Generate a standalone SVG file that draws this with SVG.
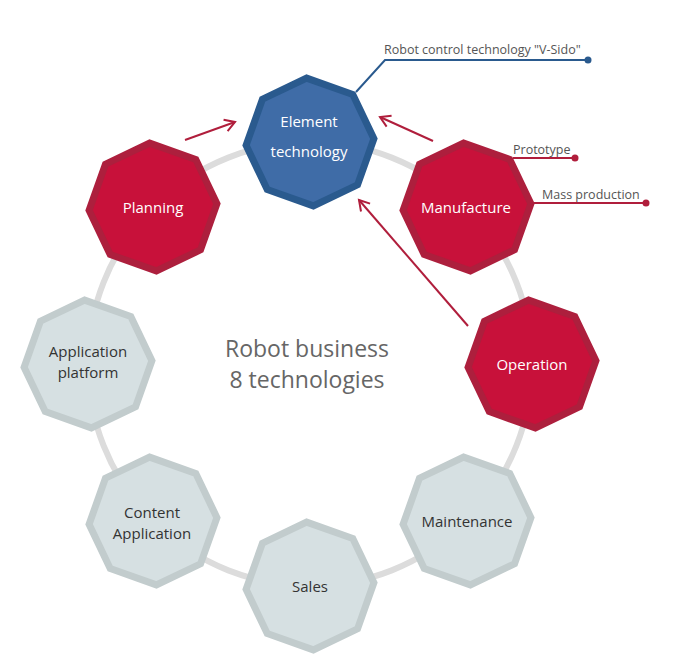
<svg xmlns="http://www.w3.org/2000/svg" width="675" height="671" viewBox="0 0 675 671">
  <style>
    .ring { fill: none; stroke: #dcdcdc; stroke-width: 6; }
    .red { fill: #c8113a; stroke: #ad1f3d; stroke-width: 7; stroke-linejoin: miter; }
    .blue { fill: #3f6ca7; stroke: #2a5a8e; stroke-width: 7; stroke-linejoin: miter; }
    .gray { fill: #d6e0e2; stroke: #c2cccd; stroke-width: 7; stroke-linejoin: miter; }
    text { font-family: "Open Sans", "Noto Sans", "Liberation Sans", sans-serif; }
    .lw { fill: #ffffff; font-size: 15px; text-anchor: middle; }
    .ld { fill: #333333; font-size: 15px; text-anchor: middle; }
    .center { fill: #666666; font-size: 23px; text-anchor: middle; }
    .note { fill: #555555; font-size: 12.5px; }
    .arrow { fill: none; stroke: #b01e3c; stroke-width: 2; marker-end: url(#ah); }
    .callr { fill: none; stroke: #b01e3c; stroke-width: 2; }
    .callb { fill: none; stroke: #2a5a8e; stroke-width: 2; }
  </style>
  <defs>
    <polygon id="oct" points="0,-64 45.25,-45.25 64,0 45.25,45.25 0,64 -45.25,45.25 -64,0 -45.25,-45.25"/>
    <marker id="ah" markerUnits="userSpaceOnUse" markerWidth="16" markerHeight="16" viewBox="-12 -8 14 16" refX="0" refY="0" orient="auto">
      <path d="M-10,-6 L0,0 L-10,6" fill="none" stroke="#b01e3c" stroke-width="2"/>
    </marker>
  </defs>

  <circle class="ring" cx="310" cy="364" r="222"/>

  <g id="connectors">
    <line class="arrow" x1="185" y1="140" x2="235" y2="122"/>
    <line class="arrow" x1="433" y1="141" x2="380" y2="117"/>
    <line class="arrow" x1="468" y1="326" x2="359" y2="200"/>
    <polyline class="callb" points="356,92 385,60 588,60"/>
    <circle cx="588" cy="60" r="3.5" fill="#2a5a8e"/>
    <polyline class="callr" points="513,158 574,158"/>
    <circle cx="575" cy="158" r="3.5" fill="#b01e3c"/>
    <polyline class="callr" points="534,203 645,203"/>
    <circle cx="646" cy="203" r="3.5" fill="#b01e3c"/>
  </g>

  <g id="element">
    <use href="#oct" class="blue" transform="translate(310,142) rotate(-3)"/>
    <text class="lw" x="309" y="127">Element</text>
    <text class="lw" x="309" y="157">technology</text>
  </g>
  <g id="manufacture">
    <use href="#oct" class="red" transform="translate(467,207) rotate(-3)"/>
    <text class="lw" x="466" y="213">Manufacture</text>
  </g>
  <g id="operation">
    <use href="#oct" class="red" transform="translate(532,364) rotate(-3)"/>
    <text class="lw" x="532" y="370">Operation</text>
  </g>
  <g id="maintenance">
    <use href="#oct" class="gray" transform="translate(467,521) rotate(-3)"/>
    <text class="ld" x="467" y="527">Maintenance</text>
  </g>
  <g id="sales">
    <use href="#oct" class="gray" transform="translate(310,586) rotate(-3)"/>
    <text class="ld" x="310" y="592">Sales</text>
  </g>
  <g id="content-application">
    <use href="#oct" class="gray" transform="translate(153,521) rotate(-3)"/>
    <text class="ld" x="152" y="518">Content</text>
    <text class="ld" x="152" y="539">Application</text>
  </g>
  <g id="application-platform">
    <use href="#oct" class="gray" transform="translate(88,364) rotate(-3)"/>
    <text class="ld" x="88" y="357">Application</text>
    <text class="ld" x="88" y="378">platform</text>
  </g>
  <g id="planning">
    <use href="#oct" class="red" transform="translate(153,207) rotate(-3)"/>
    <text class="lw" x="153" y="213">Planning</text>
  </g>

  <g id="center">
    <text class="center" x="307" y="357">Robot business</text>
    <text class="center" x="307" y="388">8 technologies</text>
  </g>

  <g id="notes">
    <text class="note" x="384" y="54">Robot control technology "V-Sido"</text>
    <text class="note" x="513" y="154">Prototype</text>
    <text class="note" x="542" y="199">Mass production</text>
  </g>
</svg>
